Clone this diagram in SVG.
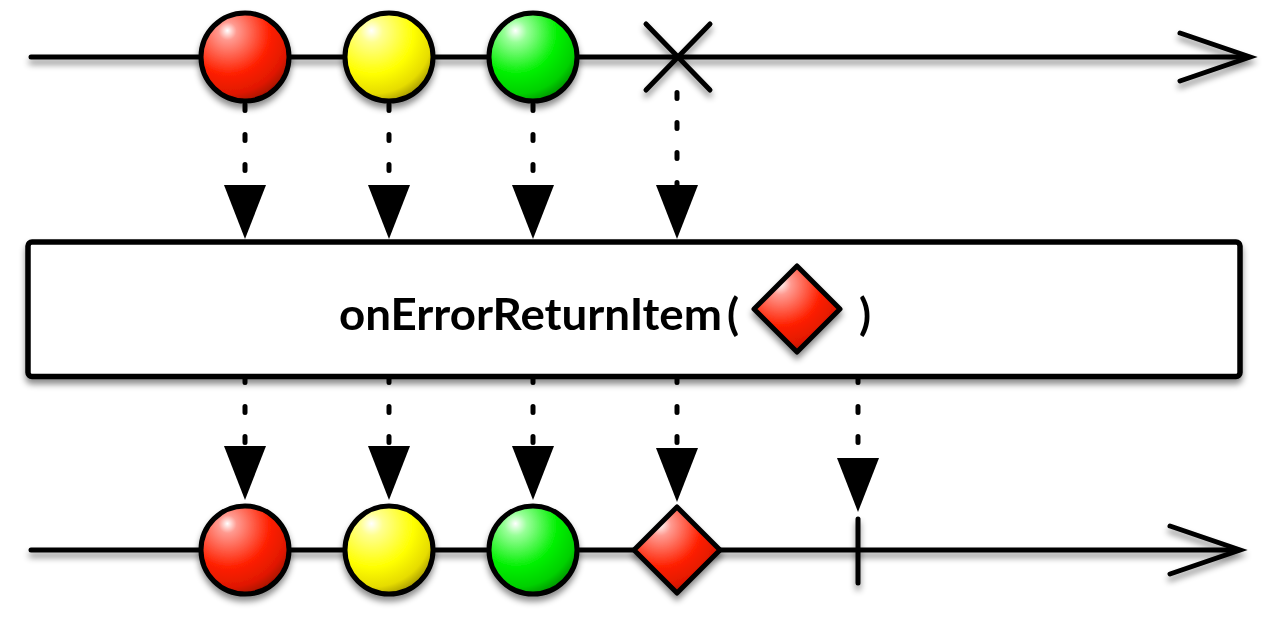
<svg xmlns="http://www.w3.org/2000/svg" width="1280" height="620" viewBox="0 0 1280 620">
<defs>
  <filter id="sh" filterUnits="userSpaceOnUse" x="0" y="0" width="1280" height="620">
    <feDropShadow dx="0" dy="5" stdDeviation="3" flood-color="#000" flood-opacity="0.45"/>
  </filter>
  <radialGradient id="gRed" cx="0.32" cy="0.25" r="0.85" fx="0.3" fy="0.2">
    <stop offset="0" stop-color="#ffffff"/>
    <stop offset="0.12" stop-color="#ff9a90"/>
    <stop offset="0.55" stop-color="#ff2000"/>
    <stop offset="0.8" stop-color="#e01800"/>
    <stop offset="1" stop-color="#8a0c00"/>
  </radialGradient>
  <radialGradient id="gYel" cx="0.32" cy="0.25" r="0.85" fx="0.3" fy="0.2">
    <stop offset="0" stop-color="#ffffff"/>
    <stop offset="0.15" stop-color="#ffff90"/>
    <stop offset="0.55" stop-color="#ffff00"/>
    <stop offset="0.8" stop-color="#e6dc00"/>
    <stop offset="1" stop-color="#8a7c00"/>
  </radialGradient>
  <radialGradient id="gGrn" cx="0.32" cy="0.25" r="0.85" fx="0.3" fy="0.2">
    <stop offset="0" stop-color="#ffffff"/>
    <stop offset="0.15" stop-color="#98ff98"/>
    <stop offset="0.55" stop-color="#00f000"/>
    <stop offset="0.8" stop-color="#00d000"/>
    <stop offset="1" stop-color="#007a00"/>
  </radialGradient>
  <radialGradient id="gDia" cx="0.32" cy="0.25" r="0.85" fx="0.3" fy="0.2">
    <stop offset="0" stop-color="#ffffff"/>
    <stop offset="0.15" stop-color="#ff9a90"/>
    <stop offset="0.55" stop-color="#ff2000"/>
    <stop offset="0.8" stop-color="#e01800"/>
    <stop offset="1" stop-color="#8a0c00"/>
  </radialGradient>
  <style>
    .line { stroke:#000; stroke-width:5; fill:none; stroke-linecap:round; stroke-linejoin:miter; }
    .ball { stroke:#000; stroke-width:5; }
    .dot { stroke:#000; stroke-width:5; fill:none; stroke-linecap:round; stroke-dasharray:6 24; }
    .head { fill:#000; }
    .lbl { font-family:Lato, "Open Sans", "Liberation Sans", sans-serif; font-weight:bold; font-size:44px; fill:#000; }
  </style>
</defs>
<rect width="1280" height="620" fill="#fff"/>

<g id="timeline-top" filter="url(#sh)">
  <line class="line" x1="31" y1="57" x2="1248" y2="57"/>
  <polyline class="line" points="1180,33 1250,57 1180,81"/>
</g>
<g id="timeline-bottom" filter="url(#sh)">
  <line class="line" x1="31" y1="550" x2="1238" y2="550"/>
  <polyline class="line" points="1170,526 1240,550 1170,574"/>
</g>

<g id="connectors">
  <line class="dot" x1="245" y1="104.5" x2="245" y2="186"/>
  <line class="dot" x1="389" y1="104.5" x2="389" y2="186"/>
  <line class="dot" x1="533" y1="104.5" x2="533" y2="186"/>
  <line class="dot" x1="677" y1="92.5" x2="677" y2="186"/>
  <polygon class="head" points="224,185 266,185 245,239"/>
  <polygon class="head" points="368,185 410,185 389,239"/>
  <polygon class="head" points="512,185 554,185 533,239"/>
  <polygon class="head" points="656,185 698,185 677,239"/>

  <line class="dot" x1="245" y1="376.5" x2="245" y2="447"/>
  <line class="dot" x1="389" y1="376.5" x2="389" y2="447"/>
  <line class="dot" x1="533" y1="376.5" x2="533" y2="447"/>
  <line class="dot" x1="677" y1="376.5" x2="677" y2="447"/>
  <line class="dot" x1="858" y1="376.5" x2="858" y2="459"/>
  <polygon class="head" points="224,446 266,446 245,500"/>
  <polygon class="head" points="368,446 410,446 389,500"/>
  <polygon class="head" points="512,446 554,446 533,500"/>
  <polygon class="head" points="656,448 698,448 677,502"/>
  <polygon class="head" points="837,458 879,458 858,512"/>
</g>

<g id="operator" filter="url(#sh)">
  <rect x="28" y="242" width="1212" height="134.5" rx="4" fill="#fff" stroke="#000" stroke-width="5.5"/>
  <text class="lbl" x="339" y="330" textLength="383" lengthAdjust="spacingAndGlyphs">onErrorReturnItem</text>
  <text class="lbl" x="727" y="330">(</text>
  <text class="lbl" x="859" y="330">)</text>
</g>
<g id="operator-diamond" filter="url(#sh)">
  <polygon class="ball" fill="url(#gDia)" points="797,266 840,309 797,352 754,309" stroke-linejoin="round"/>
</g>

<g id="top-red" filter="url(#sh)"><circle class="ball" cx="245" cy="57" r="44" fill="url(#gRed)"/></g>
<g id="top-yellow" filter="url(#sh)"><circle class="ball" cx="389" cy="57" r="44" fill="url(#gYel)"/></g>
<g id="top-green" filter="url(#sh)"><circle class="ball" cx="533" cy="57" r="44" fill="url(#gGrn)"/></g>
<g id="top-error" filter="url(#sh)">
  <line class="line" x1="646" y1="24" x2="710" y2="90"/>
  <line class="line" x1="710" y1="24" x2="646" y2="90"/>
</g>

<g id="bottom-red" filter="url(#sh)"><circle class="ball" cx="245" cy="550" r="44" fill="url(#gRed)"/></g>
<g id="bottom-yellow" filter="url(#sh)"><circle class="ball" cx="389" cy="550" r="44" fill="url(#gYel)"/></g>
<g id="bottom-green" filter="url(#sh)"><circle class="ball" cx="533" cy="550" r="44" fill="url(#gGrn)"/></g>
<g id="bottom-diamond" filter="url(#sh)">
  <polygon class="ball" fill="url(#gDia)" points="677,507 720,550 677,593 634,550" stroke-linejoin="round"/>
</g>
<g id="bottom-complete" filter="url(#sh)">
  <line class="line" x1="858" y1="519" x2="858" y2="583" stroke-width="6"/>
</g>
</svg>
